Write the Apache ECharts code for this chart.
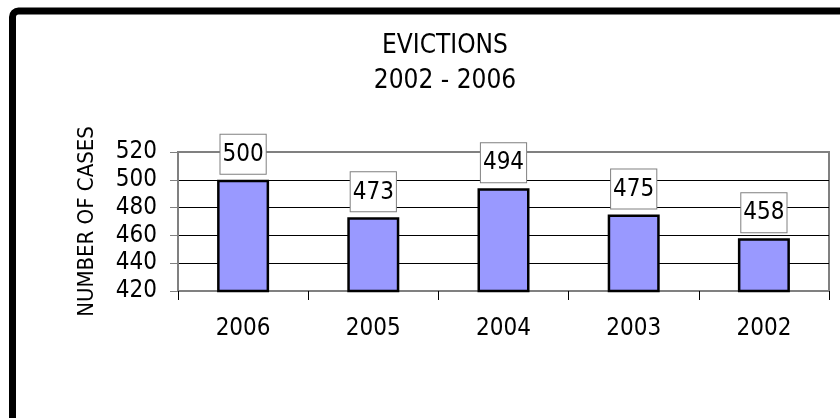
<!DOCTYPE html>
<html>
<head>
<meta charset="utf-8">
<script src="https://cdn.jsdelivr.net/npm/echarts@6/dist/echarts.min.js"></script>
<style>
  html, body { margin: 0; padding: 0; background: #fff; }
  #main { width: 840px; height: 418px; }
</style>
</head>
<body>
<div id="main"></div>
<script>
// evictions per year
var years = ['2006', '2005', '2004', '2003', '2002'];
var cases = [500, 473, 494, 475, 458];
var yMin = 420;
var yMax = 520;
var yStep = 20;

var FONT = "'DejaVu Sans Condensed', 'DejaVu Sans', sans-serif";
var chart = echarts.init(document.getElementById('main'), null, { renderer: 'canvas' });

var option = {
  backgroundColor: '#fff',
  animation: false,
  textStyle: { fontFamily: FONT },
  graphic: [{
    type: 'rect',
    shape: { x: 12.5, y: 11, width: 1200, height: 1000, r: 6 },
    style: { fill: null, stroke: '#000', lineWidth: 7 },
    silent: true
  }, {
    type: 'text',
    x: 445,
    y: 63.5,
    style: {
      text: 'EVICTIONS\n2002 - 2006',
      fontFamily: FONT,
      fontSize: 26,
      lineHeight: 35,
      fill: '#000',
      textAlign: 'center',
      textVerticalAlign: 'middle'
    }
  }],
  grid: {
    left: 178,
    right: 11,
    top: 152,
    bottom: 127,
    show: true,
    borderColor: '#808080',
    borderWidth: 2,
    backgroundColor: '#fff'
  },
  xAxis: {
    type: 'category',
    data: years,
    axisLine: { lineStyle: { color: '#808080', width: 2 } },
    axisTick: { show: true, length: 9, lineStyle: { color: '#000' } },
    axisLabel: { fontSize: 24, color: '#000', margin: 26, fontFamily: FONT },
    splitLine: { show: false }
  },
  yAxis: {
    type: 'value',
    min: yMin,
    max: yMax,
    interval: yStep,
    name: 'NUMBER OF CASES',
    nameLocation: 'middle',
    nameGap: 80,
    nameTextStyle: { fontSize: 22, color: '#000', fontFamily: FONT },
    axisLine: { show: true, lineStyle: { color: '#808080', width: 2 } },
    axisTick: { show: true, length: 8, lineStyle: { color: '#808080' } },
    axisLabel: { fontSize: 24, color: '#000', margin: 21, fontFamily: FONT },
    splitLine: {
      show: true,
      showMinLine: false,
      showMaxLine: false,
      lineStyle: { color: '#000', width: 1 }
    }
  },
  series: [{
    type: 'bar',
    data: cases,
    barWidth: 52,
    itemStyle: { color: '#9999ff', borderColor: '#000', borderWidth: 2.5 },
    label: {
      show: true,
      position: 'top',
      distance: 6,
      fontSize: 24,
      fontFamily: FONT,
      color: '#000',
      backgroundColor: '#fff',
      borderColor: '#808080',
      borderWidth: 1,
      padding: [8, 2, 7, 2]
    }
  }]
};
chart.setOption(option);
</script>
</body>
</html>
